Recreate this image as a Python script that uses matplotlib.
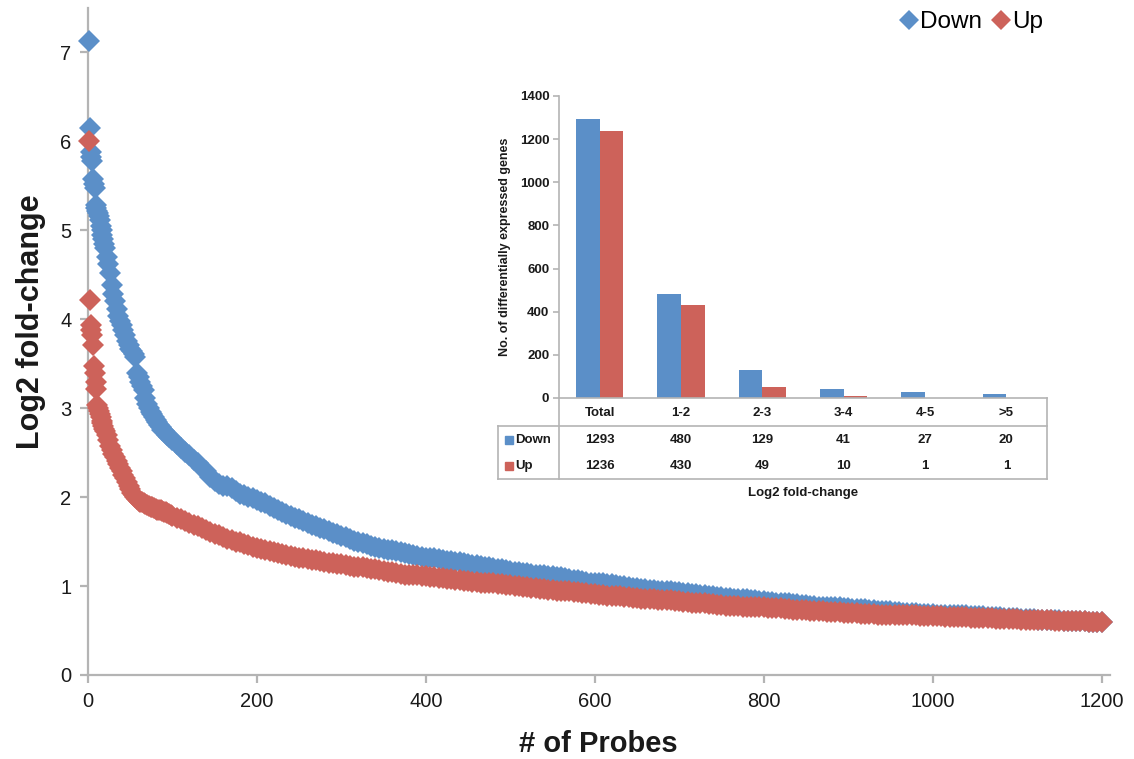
import numpy as np
import matplotlib
matplotlib.use("Agg")
import matplotlib.pyplot as plt
from matplotlib.lines import Line2D
from matplotlib.patches import Rectangle
import matplotlib.transforms as mtransforms

plt.rcParams['font.family'] = ['Liberation Sans', 'DejaVu Sans']

# ---------------- data ----------------
# probe ranks at which values were read
rank_a = list(range(1, 21))          # every probe
rank_b = list(range(22, 101, 2))     # every 2nd probe (steep part)
rank_c = list(range(105, 1201, 5))   # every 5th probe (flat part)

down_a = [7.13, 6.15, 5.88, 5.82, 5.78, 5.58, 5.52, 5.48, 5.28, 5.25,
          5.22, 5.20, 5.16, 5.12, 5.05, 5.00, 4.95, 4.90, 4.85, 4.80]
down_b = [4.70, 4.62, 4.52, 4.38, 4.28, 4.20, 4.12, 4.04, 3.98, 3.94,
          3.88, 3.82, 3.76, 3.71, 3.67, 3.64, 3.61, 3.58, 3.40, 3.35,
          3.30, 3.25, 3.20, 3.12, 3.05, 3.00, 2.96, 2.93, 2.90, 2.87,
          2.84, 2.81, 2.79, 2.76, 2.74, 2.72, 2.70, 2.68, 2.66, 2.64]
down_c = [2.60, 2.55, 2.51, 2.47, 2.42, 2.38, 2.33, 2.29, 2.23, 2.18,
          2.15, 2.13, 2.12, 2.10, 2.07, 2.04, 2.02, 2.00, 1.99, 1.97,
          1.95, 1.93, 1.90, 1.88, 1.85, 1.83, 1.81, 1.79, 1.77, 1.75,
          1.73, 1.71, 1.69, 1.67, 1.65, 1.64, 1.62, 1.60, 1.58, 1.56,
          1.55, 1.53, 1.51, 1.50, 1.48, 1.47, 1.45, 1.44, 1.43, 1.42,
          1.41, 1.40, 1.39, 1.38, 1.37, 1.36, 1.35, 1.34, 1.33, 1.32,
          1.31, 1.31, 1.30, 1.29, 1.28, 1.28, 1.27, 1.27, 1.26, 1.25,
          1.24, 1.24, 1.23, 1.22, 1.21, 1.20, 1.19, 1.19, 1.18, 1.17,
          1.16, 1.16, 1.15, 1.15, 1.14, 1.13, 1.12, 1.12, 1.11, 1.11,
          1.10, 1.10, 1.09, 1.08, 1.07, 1.07, 1.06, 1.05, 1.04, 1.04,
          1.03, 1.03, 1.02, 1.02, 1.01, 1.00, 1.00, 0.99, 0.98, 0.98,
          0.97, 0.97, 0.96, 0.96, 0.95, 0.95, 0.94, 0.94, 0.93, 0.93,
          0.92, 0.92, 0.91, 0.91, 0.90, 0.90, 0.89, 0.89, 0.88, 0.88,
          0.87, 0.87, 0.86, 0.86, 0.85, 0.85, 0.84, 0.84, 0.83, 0.83,
          0.82, 0.82, 0.81, 0.81, 0.81, 0.81, 0.80, 0.80, 0.79, 0.79,
          0.78, 0.78, 0.77, 0.77, 0.77, 0.77, 0.76, 0.76, 0.75, 0.75,
          0.74, 0.74, 0.74, 0.74, 0.73, 0.73, 0.72, 0.72, 0.72, 0.72,
          0.71, 0.71, 0.70, 0.70, 0.70, 0.70, 0.69, 0.69, 0.69, 0.69,
          0.68, 0.68, 0.68, 0.68, 0.67, 0.67, 0.67, 0.67, 0.66, 0.66,
          0.66, 0.66, 0.65, 0.65, 0.65, 0.65, 0.64, 0.64, 0.64, 0.64,
          0.63, 0.63, 0.63, 0.63, 0.62, 0.62, 0.62, 0.62, 0.62, 0.62,
          0.61, 0.61, 0.61, 0.61, 0.61, 0.61, 0.60, 0.60, 0.60, 0.60]

up_a = [6.00, 4.22, 3.93, 3.88, 3.82, 3.71, 3.47, 3.40, 3.30, 3.22,
        3.04, 3.00, 2.97, 2.93, 2.90, 2.86, 2.83, 2.80, 2.77, 2.74]
up_b = [2.70, 2.64, 2.58, 2.53, 2.49, 2.45, 2.41, 2.37, 2.33, 2.29,
        2.25, 2.21, 2.17, 2.13, 2.09, 2.05, 2.02, 2.00, 1.98, 1.96,
        1.95, 1.94, 1.93, 1.92, 1.91, 1.90, 1.89, 1.89, 1.88, 1.87,
        1.86, 1.86, 1.85, 1.84, 1.83, 1.83, 1.82, 1.81, 1.80, 1.79]
up_c = [1.77, 1.75, 1.73, 1.71, 1.69, 1.67, 1.65, 1.63, 1.61, 1.59,
        1.57, 1.55, 1.53, 1.52, 1.50, 1.49, 1.47, 1.46, 1.44, 1.43,
        1.42, 1.41, 1.39, 1.38, 1.37, 1.36, 1.35, 1.34, 1.33, 1.32,
        1.31, 1.30, 1.29, 1.29, 1.28, 1.27, 1.26, 1.26, 1.25, 1.25,
        1.24, 1.23, 1.22, 1.22, 1.21, 1.20, 1.19, 1.19, 1.18, 1.17,
        1.16, 1.16, 1.15, 1.14, 1.13, 1.13, 1.12, 1.12, 1.11, 1.11,
        1.10, 1.10, 1.09, 1.09, 1.08, 1.08, 1.07, 1.07, 1.06, 1.06,
        1.05, 1.05, 1.04, 1.04, 1.03, 1.03, 1.02, 1.02, 1.01, 1.01,
        1.00, 1.00, 0.99, 0.99, 0.98, 0.98, 0.97, 0.97, 0.96, 0.96,
        0.95, 0.95, 0.94, 0.94, 0.93, 0.93, 0.92, 0.92, 0.91, 0.91,
        0.90, 0.90, 0.89, 0.89, 0.89, 0.89, 0.88, 0.88, 0.87, 0.87,
        0.86, 0.86, 0.85, 0.85, 0.84, 0.84, 0.84, 0.84, 0.83, 0.83,
        0.82, 0.82, 0.81, 0.81, 0.81, 0.81, 0.80, 0.80, 0.79, 0.79,
        0.78, 0.78, 0.78, 0.78, 0.77, 0.77, 0.76, 0.76, 0.76, 0.76,
        0.75, 0.75, 0.75, 0.75, 0.74, 0.74, 0.73, 0.73, 0.73, 0.73,
        0.72, 0.72, 0.72, 0.72, 0.71, 0.71, 0.71, 0.71, 0.70, 0.70,
        0.70, 0.70, 0.69, 0.69, 0.69, 0.69, 0.68, 0.68, 0.68, 0.68,
        0.67, 0.67, 0.67, 0.67, 0.67, 0.67, 0.66, 0.66, 0.66, 0.66,
        0.66, 0.66, 0.65, 0.65, 0.65, 0.65, 0.65, 0.65, 0.64, 0.64,
        0.64, 0.64, 0.64, 0.64, 0.63, 0.63, 0.63, 0.63, 0.63, 0.63,
        0.62, 0.62, 0.62, 0.62, 0.62, 0.62, 0.62, 0.62, 0.61, 0.61,
        0.61, 0.61, 0.61, 0.61, 0.61, 0.61, 0.60, 0.60, 0.60, 0.60]

# inset bar chart
categories = ['Total', '1-2', '2-3', '3-4', '4-5', '>5']
down_counts = [1293, 480, 129, 41, 27, 20]
up_counts = [1236, 430, 49, 10, 1, 1]

BLUE = '#5B8FC8'
RED = '#CD625A'
AXCOL = '#B4B4B4'
TXT = '#1a1a1a'

ranks = rank_a + rank_b + rank_c
down_y = down_a + down_b + down_c
up_y = up_a + up_b + up_c

# ---------------- figure ----------------
W, H = 1134, 759
fig = plt.figure(figsize=(W / 100, H / 100), dpi=100)

def fx(px):
    return px / W

def fy(py):
    return 1 - py / H

ax = fig.add_axes([fx(88), fy(675), fx(1110) - fx(88), fy(8) - fy(675)])
ax.plot(ranks, down_y, linestyle='none', marker='D', ms=11,
        color=BLUE, mew=0, zorder=3, clip_on=False)
ax.plot(ranks, up_y, linestyle='none', marker='D', ms=11,
        color=RED, mew=0, zorder=4, clip_on=False)
ax.set_xlim(0, 1210)
ax.set_ylim(0, 7.5)
ax.set_xticks(range(0, 1201, 200))
ax.set_yticks(range(0, 8))
for s in ['top', 'right']:
    ax.spines[s].set_visible(False)
for s in ['left', 'bottom']:
    ax.spines[s].set_color(AXCOL)
    ax.spines[s].set_linewidth(1.6)
ax.tick_params(axis='both', which='major', direction='out', length=6,
               width=1.6, color=AXCOL, labelsize=14.5, labelcolor=TXT, pad=6)
ax.set_facecolor('none')

fig.text(fx(31), fy(322), 'Log2 fold-change', rotation=90, ha='center',
         va='center', fontsize=22, fontweight='bold', color=TXT)
fig.text(fx(598), fy(744), '# of Probes', ha='center', va='center',
         fontsize=21, fontweight='bold', color=TXT)

# legend
handles = [Line2D([], [], linestyle='none', marker='D', ms=10, color=BLUE, mew=0),
           Line2D([], [], linestyle='none', marker='D', ms=10, color=RED, mew=0)]
fig.legend(handles, ['Down', 'Up'], loc='center right',
           bbox_to_anchor=(fx(1043), fy(22)), ncol=2, frameon=False,
           handlelength=0.7, handletextpad=0.1, columnspacing=0.45,
           borderaxespad=0, borderpad=0, fontsize=17.5)

# ---------------- inset ----------------
L, R, T, B = 559, 1047, 96, 398
iax = fig.add_axes([fx(L), fy(B), fx(R) - fx(L), fy(T) - fy(B)])
xpos = np.arange(len(categories))
bw = 0.29
iax.bar(xpos - bw / 2, down_counts, width=bw, color=BLUE, zorder=2)
iax.bar(xpos + bw / 2, up_counts, width=bw, color=RED, zorder=2)
iax.set_xlim(-0.5, len(categories) - 0.5)
iax.set_ylim(0, 1400)
iax.set_yticks(range(0, 1401, 200))
iax.set_xticks([])
for s in ['top', 'right']:
    iax.spines[s].set_visible(False)
for s in ['left', 'bottom']:
    iax.spines[s].set_color(AXCOL)
    iax.spines[s].set_linewidth(1.2)
iax.tick_params(axis='y', direction='out', length=4, width=1.2, color=AXCOL,
                labelsize=9.5, labelcolor=TXT, pad=3)
for lab in iax.get_yticklabels():
    lab.set_fontweight('bold')
iax.set_facecolor('none')
iax.set_ylabel('No. of differentially expressed genes', fontsize=9,
               fontweight='bold', color=TXT, labelpad=6)

hgt = B - T

def afy(py):
    return -(py - B) / hgt

wid = R - L

def afx(px):
    return (px - L) / wid

trans = mtransforms.blended_transform_factory(iax.transData, iax.transAxes)
for i, c in enumerate(categories):
    iax.text(i, afy(413), c, transform=trans, ha='center', va='center',
             fontsize=9.5, fontweight='bold', color=TXT)
    iax.text(i, afy(440), str(down_counts[i]), transform=trans, ha='center',
             va='center', fontsize=9.5, fontweight='bold', color=TXT)
    iax.text(i, afy(466), str(up_counts[i]), transform=trans, ha='center',
             va='center', fontsize=9.5, fontweight='bold', color=TXT)

lkw = dict(color=AXCOL, lw=1.2, transform=iax.transAxes, clip_on=False)
iax.add_line(Line2D([0, 0], [0, afy(479)], **lkw))
iax.add_line(Line2D([1, 1], [0, afy(479)], **lkw))
iax.add_line(Line2D([afx(498), 1], [afy(426), afy(426)], **lkw))
iax.add_line(Line2D([afx(498), 1], [afy(479), afy(479)], **lkw))
iax.add_line(Line2D([afx(498), afx(498)], [afy(426), afy(479)], **lkw))

for py, col, lab in [(440, BLUE, 'Down'), (466, RED, 'Up')]:
    iax.add_patch(Rectangle((afx(505), afy(py + 4)), afx(513) - afx(505),
                            (afy(py - 4) - afy(py + 4)), transform=iax.transAxes,
                            color=col, clip_on=False))
    iax.text(afx(515), afy(py), lab, transform=iax.transAxes, ha='left',
             va='center', fontsize=9.5, fontweight='bold', color=TXT)

iax.text(0.5, afy(493), 'Log2 fold-change', transform=iax.transAxes,
         ha='center', va='center', fontsize=9.5, fontweight='bold', color=TXT)

fig.savefig('out.png', dpi=100, facecolor='white')
